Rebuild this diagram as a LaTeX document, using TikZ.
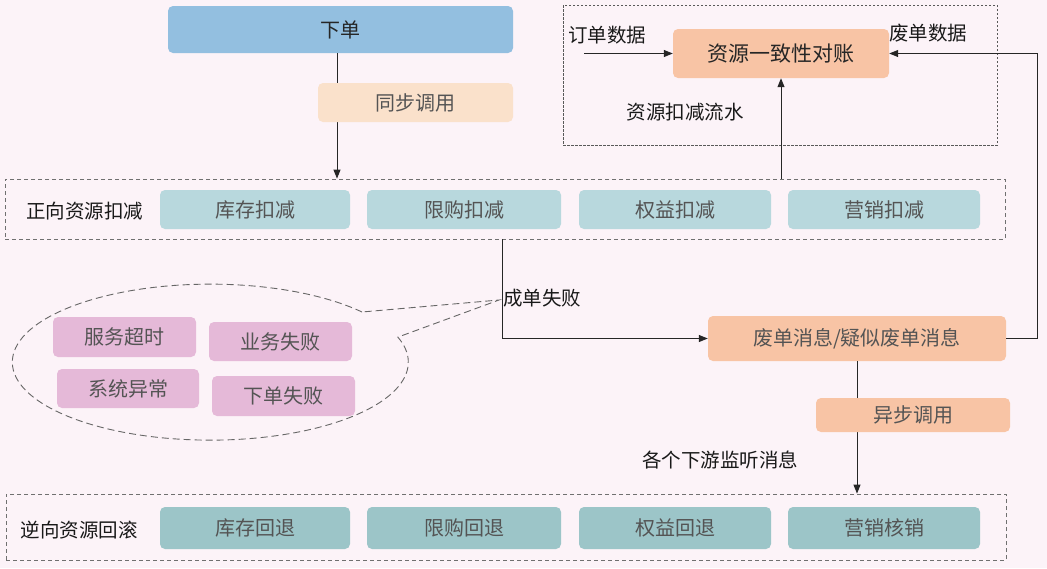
\documentclass[tikz,border=0pt]{standalone}
\usepackage{fontspec}
\setmainfont{Noto Sans CJK SC}
\usepackage{xcolor}
\usepackage{tikz}
\usetikzlibrary{shapes,arrows.meta,positioning,calc}
\definecolor{bgpink}{HTML}{FCF3F8}
\definecolor{ordblue}{HTML}{93BFE0}
\definecolor{peachlt}{HTML}{FAE1CB}
\definecolor{salmon}{HTML}{F8C4A5}
\definecolor{tealup}{HTML}{B8D8DD}
\definecolor{tealdn}{HTML}{9CC5C8}
\definecolor{pinkbox}{HTML}{E5B9D8}
\definecolor{boxtxt}{HTML}{545454}
\definecolor{grpline}{HTML}{707070}
\tikzstyle{stepbox}=[rectangle, rounded corners=5pt, text centered, text=boxtxt,
                     font=\fontsize{20}{23}\selectfont, inner sep=0pt]
\tikzstyle{grpbox} =[rectangle, draw=grpline, dash pattern=on 4pt off 3pt,
                     line width=0.8pt, inner sep=0pt]
\tikzstyle{lbl}    =[text=black!90, font=\fontsize{19.5}{23}\selectfont, inner sep=0pt]
\tikzstyle{arr}    =[-{Triangle[length=9pt,width=7pt]}, line width=1pt, draw=black!85]

\begin{document}
\begin{tikzpicture}[x=1pt, y=-1pt]

  % ── canvas ─────────────────────────────────────────────────────────────────
  \fill[bgpink] (0,0) rectangle (1047,568);
  \useasboundingbox (0,0) rectangle (1047,568);

  % ── groups ─────────────────────────────────────────────────────────────────
  \node[grpbox, minimum width=1000pt, minimum height=60pt] (fwdgrp) at (505, 209) {};
  \node[grpbox, minimum width=1000pt, minimum height=66pt] (revgrp) at (506, 527) {};
  \node[grpbox, draw=black!65, dash pattern=on 2.5pt off 1.5pt,
        minimum width=434pt, minimum height=140pt]       (chkgrp) at (780, 75)  {};

  % ── nodes ──────────────────────────────────────────────────────────────────
  \node[stepbox, fill=ordblue, text=black!85, minimum width=345pt, minimum height=47pt]
        (order) at (340.5, 29.5) {下单};

  \node[lbl] (fwdlbl) at (85, 211) {正向资源扣减};
  \node[stepbox, fill=tealup, minimum width=190pt, minimum height=39pt] (fstock) at (255, 209.5) {库存扣减};
  \node[stepbox, fill=tealup, minimum width=194pt, minimum height=39pt] (flimit) at (464, 209.5) {限购扣减};
  \node[stepbox, fill=tealup, minimum width=192pt, minimum height=39pt] (fright) at (675, 209.5) {权益扣减};
  \node[stepbox, fill=tealup, minimum width=192pt, minimum height=39pt] (fmkt)   at (884, 209.5) {营销扣减};

  \node[stepbox, fill=salmon, text=black!85, minimum width=216pt, minimum height=49pt,
        font=\fontsize{21}{24}\selectfont] (recon) at (781, 53.5) {资源一致性对账};
  \node[lbl] (ordlbl) at (607, 35)  {订单数据};
  \node[lbl] (wstlbl) at (928, 33)  {废单数据};
  \node[lbl] (flwlbl) at (685, 112) {资源扣减流水};

  \node[stepbox, fill=salmon, minimum width=298pt, minimum height=45pt]
        (discard) at (857, 338.5) {废单消息/疑似废单消息};
  \node[lbl] (lsnlbl) at (720, 460) {各个下游监听消息};

  \node[lbl] (revlbl) at (79, 530) {逆向资源回滚};
  \node[stepbox, fill=tealdn, minimum width=190pt, minimum height=42pt] (rstock) at (255, 528) {库存回退};
  \node[stepbox, fill=tealdn, minimum width=194pt, minimum height=42pt] (rlimit) at (464, 528) {限购回退};
  \node[stepbox, fill=tealdn, minimum width=192pt, minimum height=42pt] (rright) at (675, 528) {权益回退};
  \node[stepbox, fill=tealdn, minimum width=192pt, minimum height=42pt] (rmkt)   at (884, 528) {营销核销};

  % ── failure reasons (bubble) ───────────────────────────────────────────────
  \draw[draw=black!60, dash pattern=on 7pt off 4pt, line width=0.9pt]
    (362, 312) arc[start angle=-40, end angle=-378.7, x radius=198, y radius=78]
    -- (499, 300) -- cycle;
  \node[stepbox, fill=pinkbox, minimum width=143pt, minimum height=40pt] (rtime) at (124.5, 337)   {服务超时};
  \node[stepbox, fill=pinkbox, minimum width=143pt, minimum height=39pt] (rbiz)  at (280.5, 341.5) {业务失败};
  \node[stepbox, fill=pinkbox, minimum width=142pt, minimum height=39pt] (rsys)  at (128, 388.5)   {系统异常};
  \node[stepbox, fill=pinkbox, minimum width=143pt, minimum height=40pt] (rord)  at (283.5, 396)   {下单失败};

  % ── flow ───────────────────────────────────────────────────────────────────
  \coordinate (syncx) at (337, 0);
  \draw[arr] (order.south -| syncx) -- (fwdgrp.north -| syncx);
  \node[stepbox, fill=peachlt, minimum width=195pt, minimum height=39pt]
        (sync) at (415.5, 102.5) {同步调用};

  \draw[arr] (recon.south |- fwdgrp.north) -- (recon.south);

  \coordinate (ordin) at (584, 53.5);
  \draw[arr] (ordin) -- (recon.west);

  \coordinate (rtx) at (1037, 0);
  \draw[arr] (discard.east) -- (discard.east -| rtx) -- (recon.east -| rtx) -- (recon.east);

  \coordinate (failx) at (502, 0);
  \draw[arr] (fwdgrp.south -| failx) -- (discard.west -| failx) -- (discard.west);
  \node[lbl, anchor=west] (faillbl) at (503, 298) {成单失败};

  \coordinate (asyncx) at (857, 0);
  \draw[arr] (discard.south -| asyncx) -- (revgrp.north -| asyncx);
  \node[stepbox, fill=salmon, minimum width=194pt, minimum height=34pt]
        (async) at (913, 415) {异步调用};

\end{tikzpicture}
\end{document}
